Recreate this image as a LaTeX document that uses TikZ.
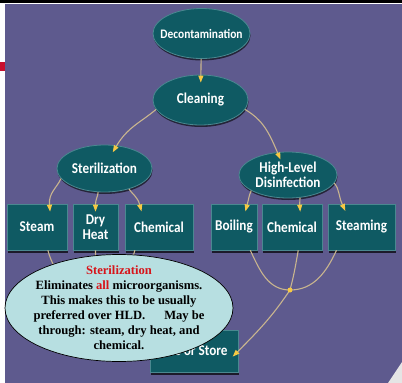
\documentclass[tikz,border=0pt]{standalone}
\usepackage{fontspec}
\newfontfamily\diagfont[FakeStretch=0.88]{Carlito}
\newfontfamily\notefont{Liberation Serif}
\usepackage{xcolor}
\usetikzlibrary{shapes.geometric,arrows.meta,shadows}
\definecolor{panel}{HTML}{5E5A8E}
\definecolor{tealfill}{HTML}{0F5A63}
\definecolor{tealrim}{HTML}{4A8890}
\definecolor{wire}{HTML}{C9B58E}
\definecolor{tipyellow}{HTML}{F7C843}
\definecolor{notefill}{HTML}{B7DFE1}
\definecolor{notered}{HTML}{D7141A}
\definecolor{slidered}{HTML}{C8102E}

\begin{document}
\begin{tikzpicture}[x=1pt,y=1pt,
    oval/.style={ellipse,fill=tealfill,draw=tealrim,line width=0.8pt,
      inner xsep=-12pt,inner ysep=0pt,minimum width=96,minimum height=48,
      text=white,align=center,
      font=\diagfont\bfseries\fontsize{15}{15}\selectfont,
      drop shadow={shadow xshift=0.5pt,shadow yshift=-2pt,fill=black,opacity=.6}},
    method/.style={rectangle,fill=tealfill,draw=tealrim,line width=0.6pt,
      inner sep=0pt,minimum height=46,text=white,align=center,
      font=\diagfont\bfseries\fontsize{15}{15}\selectfont,
      drop shadow={shadow xshift=1pt,shadow yshift=-3pt,fill=black,opacity=.7}},
    flow/.style={wire,line width=1.1pt,shorten >=-8pt,
      -{Triangle[length=7pt,width=5pt,color=tipyellow]}},
    link/.style={wire,line width=1.1pt},
    joint/.style={circle,fill=tipyellow,inner sep=0pt,minimum size=5},
    note/.style={ellipse,fill=notefill,draw=black,line width=0.7pt,
      minimum width=228,minimum height=107,inner xsep=-30pt,inner ysep=-14pt,
      align=center,font=\notefont\bfseries\fontsize{12.6}{15}\selectfont}
  ]
  \useasboundingbox (0,0) rectangle (402,-383);
  \fill[black] (0,0) rectangle (402,-2.6);
  \fill[panel] (5,-4) rectangle (401.5,-383);
  \fill[slidered] (0,-62) rectangle (5,-71);
  \fill[gray!20] (388,-383) -- (402,-362) -- (402,-383) -- cycle;

  \node[oval,font=\diagfont\bfseries\fontsize{13}{13}\selectfont,minimum width=97,minimum height=50] (decon) at (201.5,-33.5) {Decontamination};
  \node[oval,minimum width=95,minimum height=50] (clean) at (200.5,-100) {Cleaning};
  \node[oval,minimum width=95,minimum height=47] (ster) at (104.5,-168.5) {Sterilization};
  \node[oval,minimum width=98,minimum height=46] (hld) at (288,-175) {High-Level\\Disinfection};

  \node[method,minimum width=60] (steam) at (37,-227) {Steam};
  \node[method,minimum width=45] (dry) at (95.5,-227) {Dry\\Heat};
  \node[method,minimum width=68] (chemS) at (159,-227) {Chemical};
  \node[method,minimum width=46] (boil) at (234,-227) {Boiling};
  \node[method,minimum width=60] (chemH) at (292,-227) {Chemical};
  \node[method,minimum width=67] (steaming) at (361.5,-227) {Steaming};
  \node[method,minimum width=88,minimum height=42] (use) at (194,-351) {Use or Store};

  \draw[flow] (decon) -- (clean);
  \draw[flow] (clean.192) to[out=-140,in=60] (ster.62);
  \draw[flow] (clean.-12) to[out=-30,in=113] (hld.115);

  \draw[flow] (ster.193) to[out=-115,in=95] (steam.62);
  \draw[flow] (ster.-105) to[out=-95,in=90] (dry.north);
  \draw[flow] (ster.-40) to[out=-55,in=105] (chemS.130);
  \draw[flow] (hld.203) to[out=-115,in=75] (boil.60);
  \draw[flow] (hld.-62) to[out=-85,in=95] (chemH.72);
  \draw[flow] (hld.-10) to[out=-50,in=115] (steaming.130);

  \coordinate (jl) at (96,-292);
  \draw[link] (steam.-65) to[out=-75,in=180] (jl) to[out=0,in=-105] (chemS.-136);
  \draw[link] (dry.south) -- (jl);
  \draw[flow] (jl) to[out=-60,in=180] (use.west);

  \coordinate (jr) at (290,-290);
  \draw[link] (boil.-55) to[out=-65,in=180] (jr) to[out=0,in=-115] (steaming.-137);
  \draw[link] (chemH.-75) to[out=-100,in=75] (jr);
  \draw[flow] (jr) to[out=-124,in=45] (use.east);
  \node[joint] (jdot) at (jr) {};

  \node[note] (info) at (119,-308) {\textcolor{notered}{Sterilization}\\
    Eliminates \textcolor{notered}{all} microorganisms.\\
    This makes this to be usually\\
    preferred over HLD. \hspace{1em} May be\\
    through: steam, dry heat, and\\
    chemical.};
\end{tikzpicture}
\end{document}
